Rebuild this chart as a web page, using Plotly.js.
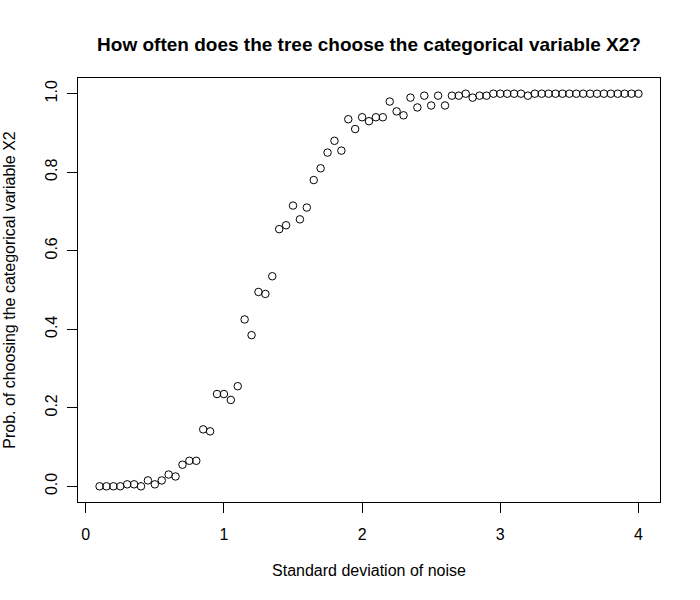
<!DOCTYPE html>
<html>
<head>
<meta charset="utf-8">
<script src="https://cdn.plot.ly/plotly-3.0.1.min.js"></script>
<style>
  body { margin: 0; background: #fff; }
  #chart { width: 700px; height: 600px; }
</style>
</head>
<body>
<div id="chart"></div>
<script>
"use strict";

// noise level (sd) for each run
const noiseSd = [
  0.10, 0.15, 0.20, 0.25, 0.30, 0.35, 0.40, 0.45, 0.50, 0.55,
  0.60, 0.65, 0.70, 0.75, 0.80, 0.85, 0.90, 0.95, 1.00, 1.05,
  1.10, 1.15, 1.20, 1.25, 1.30, 1.35, 1.40, 1.45, 1.50, 1.55,
  1.60, 1.65, 1.70, 1.75, 1.80, 1.85, 1.90, 1.95, 2.00, 2.05,
  2.10, 2.15, 2.20, 2.25, 2.30, 2.35, 2.40, 2.45, 2.50, 2.55,
  2.60, 2.65, 2.70, 2.75, 2.80, 2.85, 2.90, 2.95, 3.00, 3.05,
  3.10, 3.15, 3.20, 3.25, 3.30, 3.35, 3.40, 3.45, 3.50, 3.55,
  3.60, 3.65, 3.70, 3.75, 3.80, 3.85, 3.90, 3.95, 4.00
];

// share of trees that split on X2
const probX2 = [
  0, 0, 0, 0, 0.005, 0.005, 0, 0.015, 0.005, 0.015,
  0.03, 0.025, 0.055, 0.065, 0.065, 0.145, 0.14, 0.235, 0.235, 0.22,
  0.255, 0.425, 0.385, 0.495, 0.49, 0.535, 0.655, 0.665, 0.715, 0.68,
  0.71, 0.78, 0.81, 0.85, 0.88, 0.855, 0.935, 0.91, 0.94, 0.93,
  0.94, 0.94, 0.98, 0.955, 0.945, 0.99, 0.965, 0.995, 0.97, 0.995,
  0.97, 0.995, 0.995, 1, 0.99, 0.995, 0.995, 1, 1, 1,
  1, 1, 0.995, 1, 1, 1, 1, 1, 1, 1,
  1, 1, 1, 1, 1, 1, 1, 1, 1
];

const xTicks = [0, 1, 2, 3, 4];
const yTicks = [0, 0.2, 0.4, 0.6, 0.8, 1.0];
const yTickText = ['0.0', '0.2', '0.4', '0.6', '0.8', '1.0'];

const font = 'Liberation Sans, Arial, sans-serif';

let trace = {
  x: noiseSd,
  y: probX2,
  type: 'scatter',
  mode: 'markers',
  marker: {
    symbol: 'circle-open',
    size: 7.5,
    color: '#000',
    line: { width: 1, color: '#000' }
  },
  hoverinfo: 'x+y'
};

let layout = {
  width: 700,
  height: 600,
  margin: { l: 78, r: 40, t: 78, b: 98 },
  paper_bgcolor: '#fff',
  plot_bgcolor: '#fff',
  showlegend: false,
  font: { family: font, size: 16, color: '#000' },
  title: {
    text: '<b>How often does the tree choose the categorical variable X2?</b>',
    font: { family: font, size: 19, color: '#000' },
    x: 0.5, xref: 'paper', xanchor: 'center',
    y: 1 - 44 / 600, yref: 'container', yanchor: 'middle'
  },
  xaxis: {
    range: [-0.056, 4.156],
    tickvals: xTicks,
    ticks: 'outside', ticklen: 10, tickwidth: 1, tickcolor: '#000',
    ticklabelstandoff: 8,
    showline: true, mirror: true, linecolor: '#000', linewidth: 1,
    showgrid: false, zeroline: false,
    title: { text: 'Standard deviation of noise', standoff: 22, font: { size: 16 } }
  },
  yaxis: {
    range: [-0.04, 1.04],
    tickvals: yTicks,
    ticktext: yTickText,
    tickangle: -90,
    ticks: 'outside', ticklen: 10, tickwidth: 1, tickcolor: '#000',
    ticklabelstandoff: 4,
    showline: true, mirror: true, linecolor: '#000', linewidth: 1,
    showgrid: false, zeroline: false,
    title: { text: 'Prob. of choosing the categorical variable X2', standoff: 22, font: { size: 16 } }
  }
};

Plotly.newPlot('chart', [trace], layout, { displayModeBar: false, staticPlot: true });
</script>
</body>
</html>
